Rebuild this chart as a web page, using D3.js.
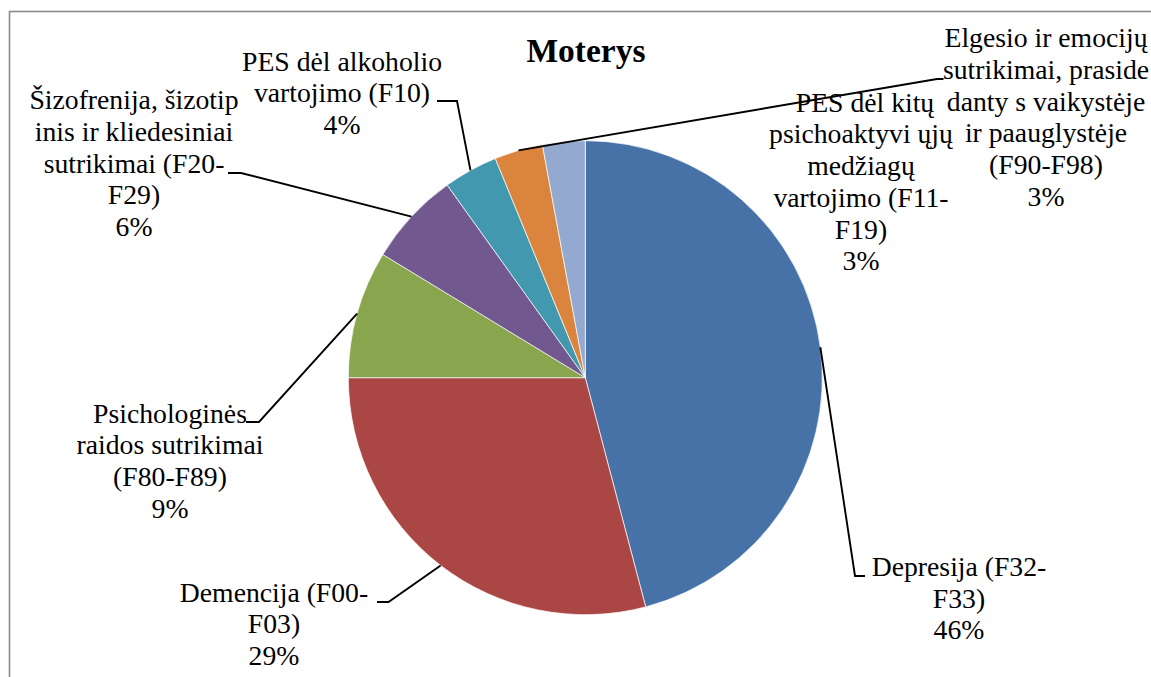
<!DOCTYPE html>
<html>
<head>
<meta charset="utf-8">
<script src="https://cdn.jsdelivr.net/npm/d3@7"></script>
<style>
  html, body { margin: 0; padding: 0; background: #fff; }
  svg { display: block; }
</style>
</head>
<body>
<svg id="chart" width="1151" height="677"></svg>
<script>
// ---- data ----
const title = "Moterys";
const categories = [
  "Depresija (F32-F33)",
  "Demencija (F00-F03)",
  "Psichologinės raidos sutrikimai (F80-F89)",
  "Šizofrenija, šizotipinis ir kliedesiniai sutrikimai (F20-F29)",
  "PES dėl alkoholio vartojimo (F10)",
  "Elgesio ir emocijų sutrikimai, prasidedantys vaikystėje ir paauglystėje (F90-F98)",
  "PES dėl kitų psichoaktyvių medžiagų vartojimo (F11-F19)"
];
const values = [45.9, 29.1, 8.7, 6.4, 3.7, 3.3, 2.9];
const labelLines = [
  ["Depresija (F32-", "F33)"],
  ["Demencija (F00-", "F03)"],
  ["Psichologinės", "raidos sutrikimai", "(F80-F89)"],
  ["Šizofrenija, šizotip", "inis ir kliedesiniai", "sutrikimai (F20-", "F29)"],
  ["PES dėl alkoholio", "vartojimo (F10)"],
  ["Elgesio ir emocijų", "sutrikimai, praside", "danty s vaikystėje", "ir paauglystėje", "(F90-F98)"],
  ["PES dėl kitų", "psichoaktyvi ųjų", "medžiagų", "vartojimo (F11-", "F19)"]
];
const colors = ["#4672A8", "#AA4643", "#89A54E", "#71588F", "#4198AF", "#DB843D", "#93A9CF"];

// ---- layout (positions only) ----
const cx = 585.3, cy = 377.7, R = 237;
const lineH = 31.7;
const labelPos = [           // [center x, first baseline y]
  [959, 576],
  [274, 601.7],
  [170, 422.7],
  [134, 109.3],
  [342, 70.7],
  [1046, 47.3],
  [861, 111.7]
];
const firstLineDx = [0, 0, 0, 0, 0, 0, 4];
const leaderElbows = [       // elbow, end ; null = no leader
  [[855, 576], [865, 576]],
  [[388.5, 602], [377, 602]],
  [[259, 422], [246, 422]],
  [[241, 173], [228, 173]],
  [[457, 101], [437, 101]],
  [[937, 79], [943.5, 79]],
  null
];

const svg = d3.select("#chart");
const FONT = "'Liberation Serif', 'Times New Roman', serif";

// frame
svg.append("rect")
  .attr("x", 9.5).attr("y", 11.5)
  .attr("width", 1300).attr("height", 800)
  .attr("fill", "#fff")
  .attr("stroke", "#8a8a8a").attr("stroke-width", 1.6);

// title
svg.append("text")
  .attr("x", 586).attr("y", 62)
  .attr("text-anchor", "middle")
  .attr("font-family", FONT).attr("font-weight", "bold")
  .attr("font-size", 33.5)
  .attr("fill", "#000")
  .text(title);

const total = d3.sum(values);
const pie = d3.pie().sort(null).value(d => d)(values);
const arc = d3.arc().innerRadius(0).outerRadius(R);
const edge = d3.arc().innerRadius(R).outerRadius(R);

const g = svg.append("g").attr("transform", `translate(${cx},${cy})`);
g.selectAll("path.slice")
  .data(pie)
  .join("path")
  .attr("class", "slice")
  .attr("d", arc)
  .attr("fill", (d, i) => colors[i])
  .attr("stroke", "#ffffff")
  .attr("stroke-width", 0.7)
  .attr("stroke-linejoin", "round");

// leader lines
pie.forEach((d, i) => {
  const el = leaderElbows[i];
  if (!el) return;
  const c = edge.centroid(d);
  const pts = [[cx + c[0], cy + c[1]], el[0], el[1]];
  svg.append("path")
    .attr("d", d3.line()(pts))
    .attr("fill", "none")
    .attr("stroke", "#000")
    .attr("stroke-width", 1.9);
});

// labels
labelLines.forEach((lines, i) => {
  const pct = Math.round(values[i] / total * 100) + "%";
  const all = lines.concat([pct]);
  const t = svg.append("text")
    .attr("font-family", FONT)
    .attr("font-size", 27.7)
    .attr("fill", "#000")
    .attr("text-anchor", "middle");
  all.forEach((s, k) => {
    t.append("tspan")
      .attr("x", labelPos[i][0] + (k === 0 ? firstLineDx[i] : 0))
      .attr("y", labelPos[i][1] + k * lineH)
      .text(s);
  });
});
</script>
</body>
</html>
